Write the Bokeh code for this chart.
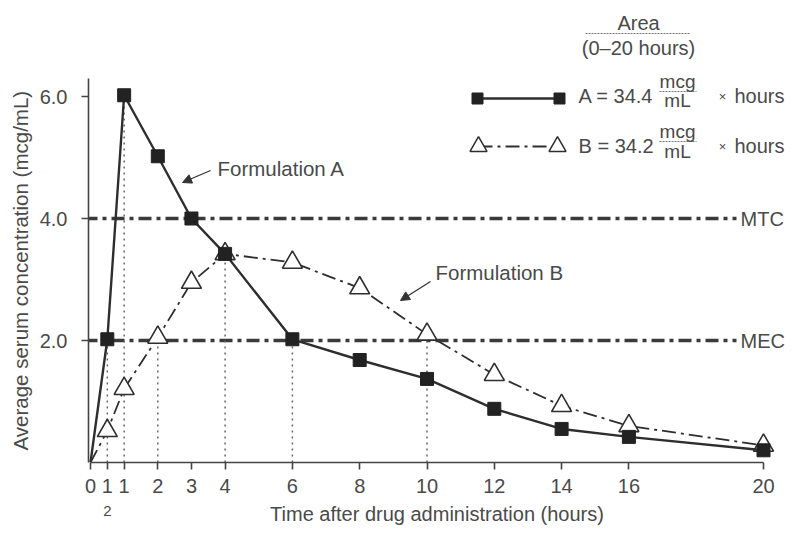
from bokeh.plotting import figure
from bokeh.models import Label, Arrow, NormalHead, FixedTicker, Range1d, LinearAxis
from bokeh.embed import file_html
from bokeh.resources import INLINE

# ---------------- data ----------------
time_h = [0, 0.5, 1, 2, 3, 4, 6, 8, 10, 12, 14, 16, 20]
conc_a = [0.0, 2.02, 6.02, 5.02, 4.0, 3.42, 2.02, 1.68, 1.37, 0.88, 0.55, 0.42, 0.2]
conc_b = [0.0, 0.52, 1.21, 2.05, 2.95, 3.42, 3.28, 2.86, 2.1, 1.44, 0.93, 0.6, 0.28]
mtc_level = 4.0
mec_level = 2.0
# drop lines: (time, series) pairs
drop_times = [0.5, 1, 2, 4, 6, 10]
drop_series = ["A", "A", "B", "A", "A", "B"]
x_ticks = [0, 0.5, 1, 2, 3, 4, 6, 8, 10, 12, 14, 16, 20]
x_tick_labels = ["0", "1", "1", "2", "3", "4", "6", "8", "10", "12", "14", "16", "20"]
half_tick = 0.5
half_denominator = "2"
y_ticks = [2, 4, 6]
y_tick_labels = ["2.0", "4.0", "6.0"]
area_a = "34.4"
area_b = "34.2"

FONT = "Liberation Sans"
TXT = "#4a4a4a"
INK = "#2e2e2e"

# ------------- layout (canvas px -> data helpers) -------------
W, H = 785, 527
PX0, PX_PER = 90.0, 33.65    # canvas x of t=0, px per hour
PY0, PY_PER = 462.0, 61.0    # canvas y of c=0, px per unit
FL, FR, FT = 88, 785, 10     # frame left/right/top
x_start = (FL - PX0) / PX_PER
x_end = x_start + (FR - FL) / PX_PER
y_start = 0.0
y_end = (PY0 - FT) / PY_PER

def X(px):
    return (px - PX0) / PX_PER

def Y(py):
    return (PY0 - py) / PY_PER

p = figure(width=W, height=H, output_backend="svg", toolbar_location=None,
           x_range=Range1d(x_start, x_end), y_range=Range1d(y_start, y_end),
           min_border_left=FL, min_border_right=W - FR, min_border_top=FT,
           min_border_bottom=H - int(PY0))
p.outline_line_color = None
p.grid.visible = False
p.background_fill_color = "white"
p.border_fill_color = "white"

# y-axis title as a left-side title (so it can sit on the drawn axis span)
p.title_location = "left"
p.title.text = "Average serum concentration (mcg/mL)"
p.title.align = "left"
p.title.offset = 12
p.title.text_font = FONT
p.title.text_font_size = "20.5px"
p.title.text_font_style = "normal"
p.title.text_color = TXT
p.title.standoff = 9

# axes
xa = p.xaxis[0]
xa.ticker = FixedTicker(ticks=x_ticks)
xa.major_label_overrides = {t: l for t, l in zip(x_ticks, x_tick_labels)}
xa.bounds = (0, 20)
ya = p.yaxis[0]
ya.ticker = FixedTicker(ticks=y_ticks)
ya.major_label_overrides = {t: l for t, l in zip(y_ticks, y_tick_labels)}
ya.bounds = (0, 6.3)
for ax in (xa, ya):
    ax.axis_line_color = "#444"
    ax.axis_line_width = 1.6
    ax.major_tick_line_color = "#444"
    ax.major_tick_line_width = 1.6
    ax.major_tick_out = 7
    ax.major_tick_in = 0
    ax.minor_tick_line_color = None
    ax.major_label_text_font = FONT
    ax.major_label_text_font_size = "20px"
    ax.major_label_text_color = TXT
xa.major_label_standoff = 9
ya.major_label_standoff = 14

# second row under the x axis: denominator of the 1/2 tick + axis title
xa2 = LinearAxis(ticker=FixedTicker(ticks=[half_tick]),
                 major_label_overrides={half_tick: half_denominator},
                 bounds=(0, 20), axis_line_color=None, major_tick_line_color=None,
                 major_tick_out=0, major_tick_in=0, minor_tick_line_color=None,
                 major_label_text_font=FONT, major_label_text_font_size="15px",
                 major_label_text_color=TXT, major_label_standoff=10,
                 axis_label="Time after drug administration (hours)",
                 axis_label_text_font=FONT, axis_label_text_font_size="20px",
                 axis_label_text_font_style="normal", axis_label_text_color=TXT,
                 axis_label_standoff=-16)
p.add_layout(xa2, "below")

# threshold lines
for lvl, name in ((mtc_level, "MTC"), (mec_level, "MEC")):
    p.line([X(84), X(736)], [lvl, lvl], line_color="#3a3a3a", line_width=3.4,
           line_dash="13 5 4 5")
    p.add_layout(Label(x=X(740), y=lvl, text=name, text_align="left", text_baseline="middle",
                       text_font=FONT, text_font_size="20px", text_color=TXT))

# drop lines
for t, s in zip(drop_times, drop_series):
    i = time_h.index(t)
    top = conc_a[i] if s == "A" else conc_b[i]
    p.line([t, t], [0, top], line_color="#666", line_width=1.5, line_dash="2 4")

# series B
p.line(time_h, conc_b, line_color=INK, line_width=1.8, line_dash="14 5 3 5")
p.scatter(time_h[1:], conc_b[1:], marker="triangle", size=20, fill_color="white",
          line_color=INK, line_width=1.6)
# series A
p.line(time_h, conc_a, line_color=INK, line_width=2.4)
p.scatter(time_h[1:], conc_a[1:], marker="square", size=13, fill_color="#222",
          line_color="#222")

# annotations: formulation labels with arrows
def txt(text, px, py, size="20px", align="left"):
    p.add_layout(Label(x=X(px), y=Y(py), text=text, text_align=align,
                       text_baseline="middle",
                       text_font=FONT, text_font_size=size, text_color=TXT))

def note(text, tx, ty, ax0, ay0, ax1, ay1):
    txt(text, tx, ty, size="20.5px")
    p.add_layout(Arrow(x_start=X(ax0), y_start=Y(ay0), x_end=X(ax1), y_end=Y(ay1),
                       line_color="#333", line_width=1.3,
                       end=NormalHead(size=9, fill_color="#333", line_color="#333")))

note("Formulation A", 217, 168, 210, 170, 182, 182)
note("Formulation B", 435, 272, 430, 281, 400, 300)

# legend block
def rule(px0, px1, py):
    p.line([X(px0), X(px1)], [Y(py), Y(py)], line_color="#777", line_width=1.0,
           line_dash="2 1")

txt("Area", 638, 22.5, align="center")
rule(585, 690, 33)
txt("(0\u201320 hours)", 638, 47, align="center")

# entry A
p.line([X(477), X(559)], [Y(98), Y(98)], line_color=INK, line_width=2.4)
p.scatter([X(477), X(559)], [Y(98), Y(98)], marker="square", size=11, fill_color="#222",
          line_color="#222")
txt("A = " + area_a, 578, 95)
txt("mcg", 677, 81, size="19px", align="center")
rule(659, 696, 91)
txt("mL", 677, 100, size="19px", align="center")
txt("\u00d7", 722, 96, size="13px", align="center")
txt("hours", 734, 95)

# entry B
p.line([X(478), X(557)], [Y(146), Y(146)], line_color=INK, line_width=1.8,
       line_dash="14 5 3 5")
p.scatter([X(478), X(557)], [Y(146), Y(146)], marker="triangle", size=17, fill_color="white",
          line_color=INK, line_width=1.5)
txt("B = " + area_b, 578, 145)
txt("mcg", 677, 131, size="19px", align="center")
rule(659, 696, 141)
txt("mL", 677, 151, size="19px", align="center")
txt("\u00d7", 722, 146, size="13px", align="center")
txt("hours", 734, 145)

open("out.html", "w").write(file_html(p, INLINE))
